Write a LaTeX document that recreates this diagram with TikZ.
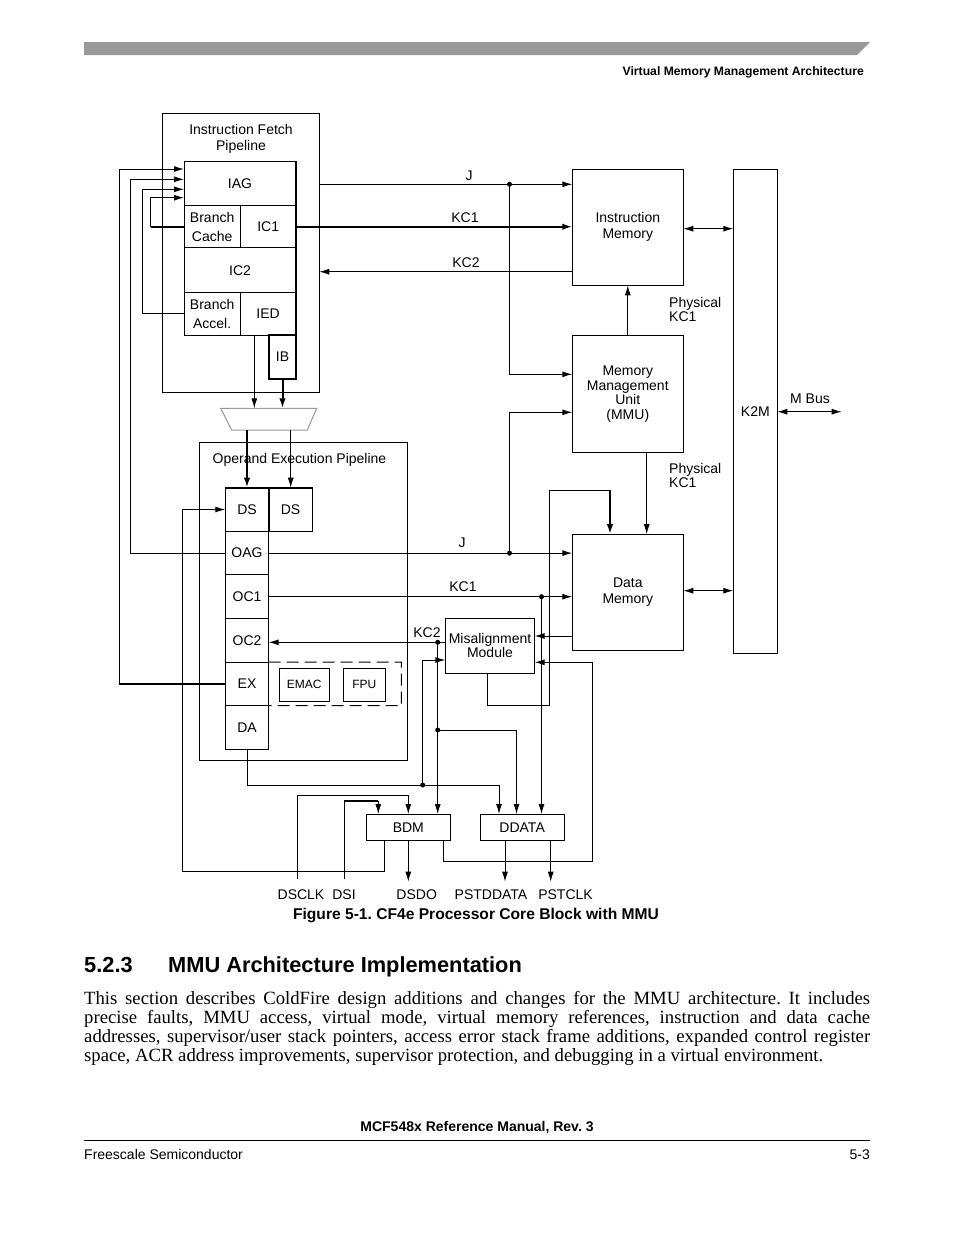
\documentclass[tikz,border=0pt]{standalone}
\usepackage{fontspec}
\setmainfont{Liberation Sans}
\newfontfamily\tms{Liberation Serif}
\usetikzlibrary{arrows.meta,calc}
\definecolor{bar}{RGB}{153,153,153}
\newcommand\dfont{\fontsize{14}{16}\selectfont}
\newcommand\dfontw{\fontsize{14}{19}\selectfont}
\newcommand\dfontn{\fontsize{14}{14.5}\selectfont}
\newcommand\sfont{\fontsize{12}{14}\selectfont}
\frenchspacing
\begin{document}
\begin{tikzpicture}[x=1pt,y=-1pt,
  bx/.style={draw, line width=1pt, inner sep=0pt, outer sep=0pt, align=center, font=\dfont},
  ln/.style={line width=1pt},
  thk/.style={line width=2pt},
  arr/.style={line width=1pt, -{Latex[length=10pt,width=6pt]}},
  tarr/.style={line width=2pt, -{Latex[length=10pt,width=6.5pt]}},
  dbl/.style={line width=1pt, {Latex[length=10pt,width=6pt]}-{Latex[length=10pt,width=6pt]}},
  dot/.style={circle, fill, inner sep=0pt, minimum size=5pt},
  lbl/.style={inner sep=0pt, font=\dfont, align=center, yshift=-1pt},
  lbll/.style={inner sep=0pt, font=\fontsize{14}{13.5}\selectfont, align=left}
]
\fill[white] (0,0) rectangle (954,1235);
\useasboundingbox (0,0) rectangle (954,1235);

% ---------- page header ----------
\fill[bar] (84,42) -- (870,42) -- (857,55) -- (84,55) -- cycle;
\node[anchor=base east, inner sep=0pt, font=\bfseries\fontsize{12.2}{14}\selectfont] (hdr) at (864,75.4) {Virtual Memory Management Architecture};

% ---------- instruction fetch pipeline ----------
\node[bx, minimum width=157.3, minimum height=279.3] (fetch) at (240.65,252.65) {};
\node[lbl] (fetchlbl) at (241,137.5) {Instruction Fetch\\Pipeline};
\node[bx, minimum width=112, minimum height=44] (iag) at (240,183.7) {IAG};
\node[bx, font=\dfontw, minimum width=56.3, minimum height=42] (bc) at (212.15,226.7) {Branch\\Cache};
\node[bx, minimum width=55.7, minimum height=42] (ic1) at (268.15,226.7) {IC1};
\node[bx, minimum width=112, minimum height=45] (ic2) at (240,270.2) {IC2};
\node[bx, font=\dfontw, minimum width=56.3, minimum height=42.3] (ba) at (212.15,313.85) {Branch\\Accel.};
\node[bx, minimum width=55.7, minimum height=42.3] (ied) at (268.15,313.85) {IED};
\node[bx, line width=1.6pt, minimum width=27, minimum height=44] (ib) at (282.5,357) {IB};
\draw[line width=1.7pt] (iag.north east) -- (ied.south east);

% mux
\draw[bar, line width=1pt] (220.7,408.3) -- (316.7,408.3) -- (307.3,430) -- (231.7,430) -- cycle;
\coordinate (mA) at (254.3,408.3);
\coordinate (mB) at (282.5,408.3);
\coordinate (mC) at (247,430);
\coordinate (mD) at (290.7,430);

% ---------- operand execution pipeline ----------
\node[bx, minimum width=208.4, minimum height=317.7] (oper) at (303.5,601.15) {};
\node[lbl] (operlbl) at (299.5,459) {Operand Execution Pipeline};
\node[bx, minimum width=43.4, minimum height=43.6] (dsA) at (247,509.5) {DS};
\node[bx, minimum width=43.6, minimum height=43.6] (dsB) at (290.5,509.5) {DS};
\node[bx, minimum width=43.4, minimum height=43.6] (oag) at (247,553.1) {OAG};
\node[bx, minimum width=43.4, minimum height=43.6] (oc1) at (247,596.7) {OC1};
\node[bx, minimum width=43.4, minimum height=43.6] (oc2) at (247,640.3) {OC2};
\node[bx, minimum width=43.4, minimum height=43.6] (ex) at (247,683.9) {EX};
\node[bx, minimum width=43.4, minimum height=43.6] (da) at (247,727.5) {DA};
\draw[thk] (dsA.north west) -- (dsB.north east);
\draw[thk] (dsA.north east) -- (dsA.south east);
\coordinate (dashNE) at (401.3,662.1);
\coordinate (dashSE) at (401.3,705.7);
\draw[ln, dash pattern=on 12pt off 6pt] (ex.north east) -- (dashNE) -- (dashSE) -- (ex.south east);
\node[bx, font=\sfont, minimum width=50, minimum height=32.7] (emac) at (304.3,684.65) {EMAC};
\node[bx, font=\sfont, minimum width=42, minimum height=32.7] (fpu) at (364.3,684.65) {FPU};

% ---------- right side blocks ----------
\node[bx, minimum width=111, minimum height=116] (im) at (627.8,227.3) {Instruction\\Memory};
\node[bx, font=\dfontn, minimum width=111, minimum height=116.6] (mmu) at (627.8,394) {Memory\\Management\\Unit\\(MMU)};
\node[bx, minimum width=111, minimum height=116] (dm) at (627.8,592.2) {Data\\Memory};
\node[bx, minimum width=44, minimum height=484] (k2m) at (755.3,411.3) {K2M};
\node[bx, font=\fontsize{14}{14}\selectfont, minimum width=89.4, minimum height=55] (mis) at (490,645.8) {Misalignment\\Module};
\node[bx, minimum width=84.7, minimum height=26.7] (bdm) at (408.35,827.35) {BDM};
\node[bx, minimum width=84.3, minimum height=26.7] (ddata) at (522.15,827.35) {DDATA};

% ---------- fetch internal feedback ----------
\coordinate (iagA) at (184,169);
\coordinate (iagB) at (184,179.3);
\coordinate (iagC) at (184,189.3);
\coordinate (iagD) at (184,197.7);
\coordinate (xA) at (119,0);
\coordinate (xB) at (130,0);
\coordinate (xC) at (142.3,0);
\coordinate (xD) at (150.7,0);
\draw[thk] (ex.west) -- (ex.west -| xA);
\draw[arr] (ex.west -| xA) -- (iagA -| xA) -- (iagA);
\draw[arr] (oag.west) -- (oag.west -| xB) -- (iagB -| xB) -- (iagB);
\draw[arr] (ba.west) -- (ba.west -| xC) -- (iagC -| xC) -- (iagC);
\draw[thk] (bc.west) -- (bc.west -| xD);
\draw[arr] (bc.west -| xD) -- (iagD -| xD) -- (iagD);

% fetch -> mux -> DS
\draw[arr] (ied.south -| mA) -- (mA);
\draw[tarr] (ib.south) -- (mB);
\draw[tarr] (mC) -- (dsA.north);
\draw[arr] (mD) -- (dsB.north -| mD);

% ---------- upper buses ----------
\coordinate (jU) at (509.5,184.3);
\draw[arr] (fetch.east |- jU) -- (im.west |- jU);
\node[lbl] (lj1) at (469,175) {J};
\draw[tarr] (ic1.east) -- (im.west |- ic1.east);
\node[lbl] (lkc1a) at (465,217) {KC1};
\coordinate (kc2u) at (572.3,271.7);
\draw[arr] (kc2u) -- (fetch.east |- kc2u);
\node[lbl] (lkc2a) at (466,262) {KC2};
\coordinate (mmuA) at (572.3,374.3);
\coordinate (mmuB) at (572.3,412.3);
\draw[arr] (jU) |- (mmuA);
\node[dot] (d1) at (jU) {};

% MMU to memories
\draw[arr] (mmu.north) -- (im.south);
\coordinate (pk) at (646.7,0);
\draw[arr] (mmu.south -| pk) -- (dm.north -| pk);
\node[lbll, anchor=west] (phys1) at (669,309.4) {Physical\\KC1};
\node[lbll, anchor=west] (phys2) at (669,475.5) {Physical\\KC1};

% memories <-> K2M <-> M Bus
\coordinate (imk) at (683.3,228.7);
\draw[dbl] (im.east |- imk) -- (k2m.west |- imk);
\coordinate (dmk) at (683.3,590.7);
\draw[dbl] (dm.east |- dmk) -- (k2m.west |- dmk);
\coordinate (mbus) at (841.7,411.7);
\draw[dbl] (k2m.east |- mbus) -- (mbus);
\node[lbl, anchor=west] (lmbus) at (790,397.7) {M Bus};

% ---------- lower buses ----------
\coordinate (jL) at (jU |- oag.east);
\draw[arr] (oag.east) -- (dm.west |- oag.east);
\draw[arr] (jL) |- (mmuB);
\node[dot] (d2) at (jL) {};
\node[lbl] (lj2) at (462,542) {J};

\coordinate (kc1d) at (541.5,0);
\draw[arr] (oc1.east) -- (dm.west |- oc1.east);
\draw[arr] (oc1.east -| kc1d) -- (ddata.north -| kc1d);
\node[dot] (d3) at (oc1.east -| kc1d) {};
\node[lbl] (lkc1b) at (463,586) {KC1};

\coordinate (kc2d) at (437.7,642.3);
\draw[arr] (mis.west |- kc2d) -- (oc2.east |- kc2d);
\draw[arr] (kc2d) -- (bdm.north -| kc2d);
\node[dot] (d4) at (kc2d) {};
\node[lbl] (lkc2b) at (427,632) {KC2};
\coordinate (kc2e) at (437.7,730);
\coordinate (kc2f) at (516.5,730);
\draw[arr] (kc2e) -- (kc2f) -- (ddata.north -| kc2f);
\node[dot] (d5) at (kc2e) {};

% data memory <-> misalignment
\coordinate (dmm) at (572.3,636);
\draw[arr] (dmm) -- (mis.east |- dmm);
\coordinate (ma) at (487.3,705);
\coordinate (mb) at (549.7,705);
\coordinate (mc) at (549.7,490);
\coordinate (md) at (610,490);
\draw[ln] (mis.south -| ma) -- (ma) -- (mb) -- (mc) -- (md);
\draw[tarr] (md) -- (dm.north -| md);

% DA -> DDATA, and tap to misalignment
\coordinate (daa) at (247,785);
\coordinate (dab) at (499,785);
\draw[arr] (da.south) -- (daa) -- (dab) -- (ddata.north -| dab);
\coordinate (dad) at (422.7,785);
\coordinate (mise) at (422.7,660);
\draw[arr] (dad) -- (mise) -- (mis.west |- mise);
\node[dot] (d6) at (dad) {};

% ---------- debug ----------
\coordinate (sclk0) at (297.3,879.3);
\coordinate (sclk1) at (297.3,795);
\coordinate (sclk2) at (408.3,795);
\draw[arr] (sclk0) -- (sclk1) -- (sclk2) -- (bdm.north -| sclk2);
\coordinate (dsi0) at (344.3,879.3);
\coordinate (dsi1) at (344.3,801);
\coordinate (dsi2) at (378.3,801);
\draw[ln] (dsi0) -- (dsi1);
\draw[line width=1.6pt] (dsi1) -- (dsi2);
\draw[arr] (dsi2) -- (bdm.north -| dsi2);

\coordinate (b1) at (384,871.7);
\coordinate (b2) at (182.7,871.7);
\draw[arr] (bdm.south -| b1) -- (b1) -- (b2) -- (b2 |- dsA.west) -- (dsA.west);
\coordinate (dsdo) at (408.3,881.7);
\draw[arr] (bdm.south -| dsdo) -- (dsdo);
\coordinate (c1) at (443.3,861.7);
\coordinate (c2) at (592.7,861.7);
\coordinate (c3) at (592.7,662.3);
\draw[arr] (bdm.south -| c1) -- (c1) -- (c2) -- (c3) -- (mis.east |- c3);
\coordinate (pst1) at (505,881.7);
\coordinate (pst2) at (550.7,881.7);
\draw[arr] (ddata.south -| pst1) -- (pst1);
\draw[arr] (ddata.south -| pst2) -- (pst2);

\node[lbl] (lsclk) at (301,893.5) {DSCLK};
\node[lbl] (ldsi) at (344,893.5) {DSI};
\node[lbl] (ldsdo) at (416.7,893.5) {DSDO};
\node[lbl] (lpstd) at (491,893.5) {PSTDDATA};
\node[lbl] (lpstc) at (565.5,893.5) {PSTCLK};

% ---------- caption, heading, body ----------
\node[anchor=base, inner sep=0pt, font=\bfseries\fontsize{15.6}{18}\selectfont] (cap) at (476,919.6) {Figure 5-1. CF4e Processor Core Block with MMU};
\node[anchor=base west, inner sep=0pt, font=\bfseries\fontsize{21.8}{24}\selectfont] (hnum) at (84,972) {5.2.3};
\node[anchor=base west, inner sep=0pt, font=\bfseries\fontsize{21.8}{24}\selectfont] (htitle) at (168,972) {MMU Architecture Implementation};
\node[anchor=north west, inner sep=0pt, text width=786pt, align=justify, font=\tms\fontsize{18.7}{19}\selectfont] (para) at (84,991) {This section describes ColdFire design additions and changes for the MMU architecture. It includes\linebreak precise faults, MMU access, virtual mode, virtual memory references, instruction and data cache\linebreak addresses, supervisor/user stack pointers, access error stack frame additions, expanded control register\linebreak space, ACR address improvements, supervisor protection, and debugging in a virtual environment.};

% ---------- footer ----------
\node[anchor=base, inner sep=0pt, font=\bfseries\fontsize{14}{16}\selectfont] (ftitle) at (477,1131) {MCF548x Reference Manual, Rev. 3};
\draw[line width=0.8pt] (84,1140) -- (870,1140);
\node[anchor=base west, inner sep=0pt, font=\fontsize{14}{16}\selectfont] (fleft) at (84,1159) {Freescale Semiconductor};
\node[anchor=base east, inner sep=0pt, font=\fontsize{14}{16}\selectfont] (fright) at (870,1159) {5-3};
\end{tikzpicture}
\end{document}
